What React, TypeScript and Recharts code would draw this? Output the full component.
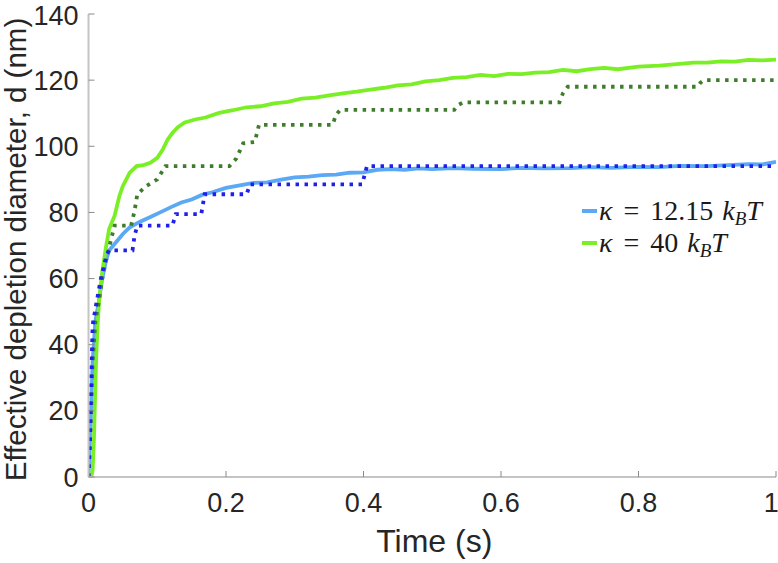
import { LineChart, Line, XAxis, YAxis, Legend, Label } from "recharts";

// time axis (s) and effective depletion diameter d (nm)
const softT = [0, 0.003, 0.006, 0.01, 0.015, 0.02, 0.025, 0.03, 0.04, 0.05, 0.06, 0.075, 0.09, 0.105, 0.12, 0.135, 0.15, 0.165, 0.18, 0.2, 0.22, 0.24, 0.26, 0.28, 0.3, 0.32, 0.34, 0.36, 0.38, 0.4, 0.42, 0.44, 0.46, 0.48, 0.5, 0.53, 0.56, 0.6, 0.63, 0.66, 0.7, 0.73, 0.76, 0.8, 0.83, 0.86, 0.9, 0.93, 0.96, 0.98, 1];
const softD = [0, 15, 35, 47, 53, 60, 65, 68.5, 71, 73.5, 75.5, 77.2, 78.6, 80.1, 81.6, 83.0, 83.9, 85.3, 86.1, 87.4, 88.2, 88.9, 89.1, 89.9, 90.6, 90.8, 91.3, 91.4, 92.0, 92.1, 92.9, 93.1, 92.9, 93.3, 93.1, 93.4, 93.2, 93.1, 93.5, 93.3, 93.4, 93.7, 93.5, 93.8, 93.7, 94.1, 94.0, 94.3, 94.6, 94.5, 95.3];

const stiffT = [0.004, 0.006, 0.008, 0.009, 0.011, 0.013, 0.016, 0.02, 0.025, 0.03, 0.038, 0.045, 0.05, 0.06, 0.07, 0.08, 0.09, 0.1, 0.108, 0.115, 0.122, 0.13, 0.14, 0.155, 0.17, 0.19, 0.21, 0.23, 0.25, 0.27, 0.29, 0.31, 0.33, 0.35, 0.37, 0.39, 0.41, 0.43, 0.45, 0.47, 0.49, 0.51, 0.53, 0.55, 0.57, 0.59, 0.61, 0.63, 0.65, 0.67, 0.69, 0.71, 0.73, 0.75, 0.77, 0.8, 0.83, 0.86, 0.88, 0.9, 0.92, 0.94, 0.96, 0.98, 1];
const stiffD = [0, 2, 12, 20, 35, 45, 55, 62, 69, 75, 79, 85, 88, 92, 94, 94.3, 95, 96.5, 99, 102, 104, 105.8, 107.2, 108.1, 108.7, 110.1, 110.9, 111.8, 112.1, 113.0, 113.4, 114.4, 114.7, 115.4, 116.0, 116.5, 117.1, 117.7, 118.4, 118.7, 119.6, 120.0, 120.7, 120.9, 121.6, 121.2, 121.9, 121.8, 122.3, 122.4, 123.1, 122.7, 123.3, 123.7, 123.3, 124.1, 124.4, 124.9, 125.3, 125.3, 125.7, 125.6, 126.1, 126.0, 126.2];

// stepped (dotted) curves
const softStepT = [0, 0.002, 0.004, 0.006, 0.011, 0.018, 0.026, 0.03, 0.064, 0.067, 0.071, 0.122, 0.127, 0.164, 0.169, 0.23, 0.235, 0.398, 0.405, 1];
const softStepD = [0, 10, 30, 46, 52, 60, 67, 68.5, 68.5, 73, 76, 76, 79.5, 79.5, 85.5, 85.5, 88.5, 88.5, 94, 94];

const stiffStepT = [0, 0.003, 0.006, 0.01, 0.015, 0.02, 0.025, 0.029, 0.033, 0.038, 0.062, 0.067, 0.071, 0.084, 0.1, 0.106, 0.112, 0.205, 0.215, 0.225, 0.242, 0.245, 0.248, 0.355, 0.36, 0.366, 0.532, 0.537, 0.545, 0.685, 0.69, 0.697, 0.886, 0.89, 0.895, 1];
const stiffStepD = [0, 15, 35, 47, 53, 60, 65, 68.5, 72, 76, 76, 80.5, 85.5, 88, 90, 92, 94, 94, 96.3, 100.9, 101.3, 104, 106.5, 106.5, 109.5, 111, 111, 112.4, 113.3, 113.3, 116, 118, 118, 119.2, 120, 120];

const xTicks = [0, 0.2, 0.4, 0.6, 0.8, 1];
const yTicks = [0, 20, 40, 60, 80, 100, 120, 140];
const kappas = ["12.15", "40"];

const pts = (ts: number[], ds: number[]) => ts.map((t, i) => ({ t, d: ds[i] }));

const sans = "'Liberation Sans', Arial, Helvetica, sans-serif";

const YTitle = (props: any) => {
  const cy = props.viewBox.y + props.viewBox.height / 2 + 4;
  return (
    <text x={26} y={cy} transform={`rotate(-90, 26, ${cy})`} textAnchor="middle"
      fontFamily={sans} fontSize={29.5} fill="#262626">
      Effective depletion diameter, d (nm)
    </text>
  );
};

const XTitle = (props: any) => {
  const cx = props.viewBox.x + props.viewBox.width / 2 + 2;
  return (
    <text x={cx} y={552} textAnchor="middle" fontFamily={sans} fontSize={32} fill="#262626">
      Time (s)
    </text>
  );
};

const renderLegend = (props: any) => {
  const items = (props.payload || []).filter((p: any) => p.type !== "none");
  return (
    <div style={{ fontFamily: "'Liberation Serif', 'DejaVu Serif', serif", fontSize: 28, color: "#1a1a1a" }}>
      {items.map((p: any, i: number) => (
        <div key={i} style={{ display: "flex", alignItems: "center", height: 32, whiteSpace: "nowrap" }}>
          <span style={{ display: "inline-block", width: 15, height: 4, background: p.color, marginRight: 2 }} />
          <i>κ</i>
          <span style={{ margin: "0 11px" }}>=</span>
          <span>{kappas[i]}</span>
          <span style={{ marginLeft: 9, display: "inline-flex", alignItems: "baseline" }}>
            <i>k</i>
            <i style={{ fontSize: 19, position: "relative", top: 5 }}>B</i>
            <i>T</i>
          </span>
        </div>
      ))}
    </div>
  );
};

export default function App() {
  return (
    <div style={{ position: "absolute", left: 0, top: 0, background: "#fff" }}>
      <LineChart width={778} height={563} margin={{ top: 14, right: 2, left: 0, bottom: 0 }}>
        <XAxis
          type="number" dataKey="t" domain={[0, 1]} ticks={xTicks} allowDataOverflow
          height={86} tickSize={-6} tickMargin={22}
          axisLine={{ stroke: "#c4c4c4", strokeWidth: 2 }}
          tickLine={{ stroke: "#8a8a8a", strokeWidth: 1 }}
          tick={{ fill: "#262626", fontSize: 27, fontFamily: sans }}
        >
          <Label content={XTitle} />
        </XAxis>
        <YAxis
          type="number" domain={[0, 140]} ticks={yTicks} allowDataOverflow
          width={88.5} tickSize={-6} tickMargin={16}
          axisLine={{ stroke: "#c4c4c4", strokeWidth: 2 }}
          tickLine={{ stroke: "#8a8a8a", strokeWidth: 1 }}
          tick={{ fill: "#262626", fontSize: 27, fontFamily: sans }}
        >
          <Label content={YTitle} />
        </YAxis>
        <Legend
          layout="horizontal" verticalAlign="middle" align="center"
          content={renderLegend}
          wrapperStyle={{ position: "absolute", left: 582, top: 195, width: 196 }}
        />
        <Line data={pts(softT, softD)} dataKey="d" name="soft" stroke="#5ba8f5" strokeWidth={3.8} dot={false} isAnimationActive={false} />
        <Line data={pts(stiffT, stiffD)} dataKey="d" name="stiff" stroke="#7bef26" strokeWidth={3.8} dot={false} isAnimationActive={false} />
        <Line data={pts(stiffStepT, stiffStepD)} dataKey="d" name="stiffStep" legendType="none" stroke="#3f7d2c" strokeWidth={3.8} strokeDasharray="3.5 5.5" dot={false} isAnimationActive={false} />
        <Line data={pts(softStepT, softStepD)} dataKey="d" name="softStep" legendType="none" stroke="#1f1fee" strokeWidth={3.8} strokeDasharray="3.5 5.5" dot={false} isAnimationActive={false} />
      </LineChart>
    </div>
  );
}
